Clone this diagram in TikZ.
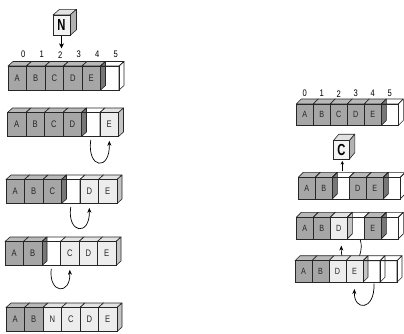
\documentclass[tikz,border=0pt]{standalone}
\usepackage{fontspec}
\usepackage{tikz}
\usetikzlibrary{arrows.meta, calc}
\newfontfamily\cellfont[FakeStretch=0.8]{Liberation Sans}
\newfontfamily\keyfont[FakeStretch=0.7]{Liberation Sans}

\definecolor{darkF}{HTML}{A6A6A6}
\definecolor{darkT}{HTML}{B9B9B9}
\definecolor{darkS}{HTML}{777777}
\definecolor{lightF}{HTML}{EDEDED}
\definecolor{lightT}{HTML}{E3E3E3}
\definecolor{lightS}{HTML}{C4C4C4}
\definecolor{keyF}{HTML}{F3F3F3}
\definecolor{keyT}{HTML}{E2E2E2}
\definecolor{keyS}{HTML}{B2B2B2}

% cube size
\newcommand{\cellw}{18.5}
\newcommand{\cellh}{24}
\newcommand{\celldx}{5}
\newcommand{\celldy}{4.5}

% one cube: name, x, y (front top left), kind, label
\newcommand{\drawcell}[5]{%
  \draw[cellface, #4top] (#2,#3) -- ++(\celldx,-\celldy) -- ++(\cellw,0) -- ++(-\celldx,\celldy) -- cycle;
  \draw[cellface, #4side] (#2+\cellw,#3) -- ++(\celldx,-\celldy) -- ++(0,\cellh) -- ++(-\celldx,\celldy) -- cycle;
  \node[cellfront, #4front, minimum width=\cellw pt, minimum height=\cellh pt] (#1) at (#2+\cellw/2,#3+\cellh/2) {#5};
}

% a row of six cubes: prefix, x, y, kind/label list
\newcommand{\drawrow}[4]{%
  \foreach \kind/\txt [count=\i from 0] in {#4} {
    \pgfmathsetmacro{\cx}{#2+\i*\cellw}
    \edef\cellcmd{\noexpand\drawcell{#1\i}{\cx}{#3}{\kind}{\txt}}\cellcmd
  }
}

\begin{document}
\begin{tikzpicture}[x=1pt, y=-1pt,
    cellface/.style={draw=black!85, line width=0.6pt, line join=round},
    cellfront/.style={rectangle, draw=black!85, line width=0.6pt, inner sep=0pt, text=black!85, font=\cellfont\fontsize{9.5}{10}\selectfont},
    darktop/.style={fill=darkT}, darkside/.style={fill=darkS}, darkfront/.style={fill=darkF},
    lighttop/.style={fill=lightT}, lightside/.style={fill=lightS}, lightfront/.style={fill=lightF},
    emptytop/.style={}, emptyside/.style={}, emptyfront/.style={},
    keytop/.style={fill=keyT}, keyside/.style={fill=keyS},
    keyfront/.style={fill=keyF, text=black, font=\keyfont\bfseries\fontsize{16}{16}\selectfont},
    digit/.style={inner sep=0pt, font=\cellfont\fontsize{9.5}{10}\selectfont},
    push/.style={-{Stealth[length=5pt, width=5pt]}, line width=0.8pt},
    turn/.style={-{Stealth[length=5pt, width=4pt]}, line width=0.7pt}
  ]
\useasboundingbox (0,0) rectangle (404,333);

% Insertion at index 2
\begin{scope}
  \renewcommand{\cellw}{17}\renewcommand{\cellh}{20.5}
  \renewcommand{\celldx}{6.5}\renewcommand{\celldy}{5.7}
  \drawcell{newN}{53}{15}{key}{N}
\end{scope}

\drawrow{a}{8}{66}{dark/A,dark/B,dark/C,dark/D,dark/E,empty/}
\foreach \i in {0,...,5}
  \node[digit] (ta\i) at ([xshift=6pt, yshift=11pt]a\i.north) {\i};
\coordinate (slot) at ($(newN.south)+(0,12.5)$);
\draw[push] (newN.south) -- (slot);

% Shift right, one element at a time
\drawrow{b}{7.5}{112.5}{dark/A,dark/B,dark/C,dark/D,empty/,light/E}
\draw[turn] ([yshift=-3pt]b4.south) .. controls +(-4,29) and +(1,31) .. ([yshift=-4pt]b5.south);

\drawrow{c}{6}{179.5}{dark/A,dark/B,dark/C,empty/,light/D,light/E}
\draw[turn] ([yshift=-3pt]c3.south) .. controls +(-4,27) and +(1,29) .. ([yshift=-4pt]c4.south);

\drawrow{d}{5}{241.5}{dark/A,dark/B,empty/,light/C,light/D,light/E}
\draw[turn] ([yshift=-3pt]d2.south) .. controls +(-3,25) and +(1,26) .. ([yshift=-4pt]d3.south);

\drawrow{e}{6}{307.5}{dark/A,dark/B,light/N,light/C,light/D,light/E}

% Deletion at index 2
\begin{scope}
  \renewcommand{\cellw}{17}\renewcommand{\cellh}{21.5}
  \renewcommand{\celldx}{5}\renewcommand{\celldy}{5}
  \tikzset{cellfront/.append style={font=\cellfont\fontsize{9}{9}\selectfont}}

  \drawrow{p}{296.3}{104}{dark/A,dark/B,dark/C,dark/D,dark/E,empty/}
  \foreach \i in {0,...,5}
    \node[digit] (tp\i) at ([yshift=10pt]p\i.north) {\i};

  \drawrow{q}{298.3}{177.3}{dark/A,dark/B,empty/,dark/D,dark/E,empty/}

  \begin{scope}
    \renewcommand{\cellw}{16}\renewcommand{\cellh}{18.5}
    \renewcommand{\celldx}{5.5}\renewcommand{\celldy}{6.5}
    \drawcell{newC}{333.3}{140.7}{key}{C}
  \end{scope}
  \coordinate (gap) at ($(newC.south)+(1,11)$);
  \draw[push, -{Stealth[length=3.5pt, width=3.5pt]}, shorten >=1.5pt] (gap) -- (gap |- newC.south);

  % Shift left, one element at a time
  \drawrow{r}{296.3}{217.3}{dark/A,dark/B,light/D,empty/,dark/E,empty/}
  \coordinate (hid) at ($(r3.south)+(-4.8,27)$);
  \draw[turn] ([xshift=4.5pt, yshift=-1pt]r3.south) .. controls +(3,8) and +(8,-3) .. (hid)
    .. controls +(-8,1) and +(0,10) .. ([xshift=2.5pt, yshift=-6.5pt]r2.south);

  \drawrow{s}{295}{260.7}{dark/A,dark/B,light/D,light/E,empty/,empty/}
  \draw[turn] ([xshift=2.5pt, yshift=-1pt]s4.south) .. controls +(1,28) and +(-1,22) .. ([yshift=-6.5pt]s3.south);
\end{scope}
\end{tikzpicture}
\end{document}
